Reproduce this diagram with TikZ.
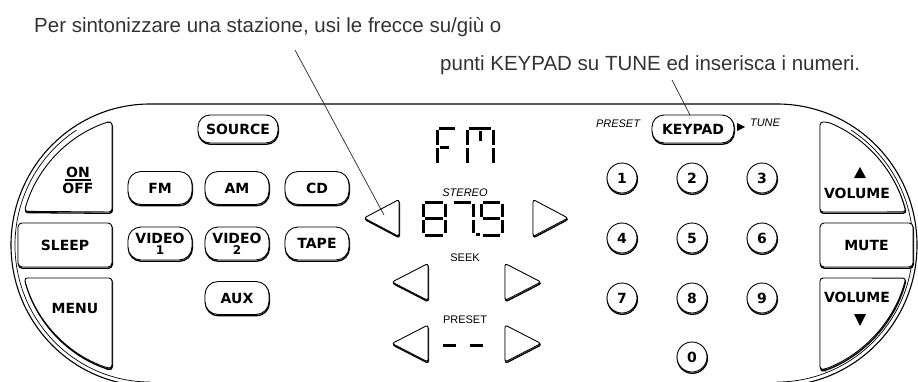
\documentclass[tikz,border=0pt]{standalone}
\usepackage{fontspec}
\setmainfont{Liberation Sans}
\newfontfamily\btnfont{DejaVu Sans}
\usetikzlibrary{calc}
\tikzset{
  outline/.style={draw=black, line width=1.1pt},
  btn/.style={draw=black, line width=0.9pt, fill=white,
    preaction={draw=black, line width=1.3pt, transform canvas={xshift=0.4pt, yshift=-1.3pt}}},
  pill/.style={btn, rounded corners=13pt, minimum width=64pt, minimum height=33pt, inner sep=0pt,
    align=center, font=\btnfont\bfseries\fontsize{14}{11}\selectfont},
  numkey/.style={btn, circle, minimum size=30pt, inner sep=0pt, font=\btnfont\bfseries\fontsize{14}{14}\selectfont},
  lbl/.style={inner sep=0pt, font=\btnfont\bfseries\fontsize{14}{14}\selectfont},
  small/.style={inner sep=0pt, font=\fontsize{11}{11}\selectfont},
  smallit/.style={inner sep=0pt, font=\itshape\fontsize{11}{11}\selectfont},
  toptext/.style={inner sep=0pt, text=black!80, font=\fontsize{20.5}{22}\selectfont},
  leader/.style={draw=black!85, line width=0.7pt},
  seg/.style={line width=3pt, line cap=butt},
}
\newcommand{\sevseg}[5]{%
  \foreach \q in {#5}{%
    \if a\q\draw[seg] ({#1+2},{#2})--({#1+#3-2},{#2});\fi
    \if b\q\draw[seg] ({#1+#3},{#2+2})--({#1+#3},{#2+#4/2-1.5});\fi
    \if c\q\draw[seg] ({#1+#3},{#2+#4/2+1.5})--({#1+#3},{#2+#4-2});\fi
    \if d\q\draw[seg] ({#1+2},{#2+#4})--({#1+#3-2},{#2+#4});\fi
    \if e\q\draw[seg] ({#1},{#2+#4/2+1.5})--({#1},{#2+#4-2});\fi
    \if f\q\draw[seg] ({#1},{#2+2})--({#1},{#2+#4/2-1.5});\fi
    \if g\q\draw[seg] ({#1+2},{#2+#4/2})--({#1+#3-2},{#2+#4/2});\fi
  }}
\newcommand{\ltri}[3]{\draw[btn, rounded corners=2.5pt] (#1,#2) -- (#3,{#2-18.5}) -- (#3,{#2+18.5}) -- cycle;}
\newcommand{\rtri}[3]{\draw[btn, rounded corners=2.5pt] (#1,#2) -- (#3,{#2+18.5}) -- (#3,{#2-18.5}) -- cycle;}
\begin{document}
\begin{tikzpicture}[x=1pt,y=-1pt]
\useasboundingbox (0,0) rectangle (918,381);
\coordinate (lc) at (150,245);
\coordinate (rc) at (777,245);
% outer body
\begin{scope}
  \clip (0,0) rectangle (918,381);
  \draw[outline] (150,104) -- (777,104)
     arc[start angle=-90, end angle=90, x radius=140, y radius=141]
     -- (150,386)
     arc[start angle=90, end angle=270, x radius=139, y radius=141] -- cycle;
  \draw[line width=0.7pt] ($(lc)+(237:135 and 137)$) arc[start angle=237, end angle=90, x radius=135, y radius=137];
  \draw[line width=0.7pt] ($(rc)+(-57:136 and 137)$) arc[start angle=-57, end angle=90, x radius=136, y radius=137];
\end{scope}
% top texts and leaders
\node[toptext, anchor=base west] (t1) at (34,32) {Per sintonizzare una stazione, usi le frecce su/giù o};
\node[toptext, anchor=base west] (t2) at (440,70) {punti KEYPAD su TUNE ed inserisca i numeri.};
\coordinate (l1a) at (295,50);
\coordinate (l1b) at (384,215);
\coordinate (l2a) at (672,80);
\coordinate (l2b) at (690,115);
% left side buttons
\draw[btn, rounded corners=3pt] (112,212) -- (112,122) -- ($(lc)+(251:130)$)
   arc[start angle=251, end angle=195, radius=130] -- cycle;
\node[lbl, anchor=base] (onT) at (78,177) {ON};
\draw[line width=1.6pt] (65,180) -- (91,180);
\node[lbl, anchor=base] (offT) at (78,193) {OFF};
\node[btn, lbl, rounded corners=4pt, minimum width=94pt, minimum height=44pt] (sleep) at (65,245) {SLEEP};
\draw[btn, rounded corners=3pt] (112,278) -- ($(lc)+(165.3:130)$)
   arc[start angle=165.3, end angle=108.9, radius=130] -- (112,368) -- cycle;
\node[lbl] (menuT) at (75,308) {MENU};
% source buttons
\node[pill, minimum width=80pt, minimum height=28pt, rounded corners=12pt] (source) at (238,129) {SOURCE};
\node[pill] (fm) at (160,188) {FM};
\node[pill] (am) at (237,188) {AM};
\node[pill] (cd) at (317,188) {CD};
\node[pill] (v1) at (160,243.5) {VIDEO\\{\fontsize{12}{11}\selectfont 1}};
\node[pill] (v2) at (237,243.5) {VIDEO\\{\fontsize{12}{11}\selectfont 2}};
\node[pill] (tape) at (317,243.5) {TAPE};
\node[pill] (aux) at (237,298) {AUX};
% display
\sevseg{437}{128}{20}{37}{a,e,f}
\draw[seg] (440,147) -- (449,147);
\sevseg{467}{128}{26}{37}{a,b,c,e,f}
\draw[seg] (480,131) -- (480,141);
\node[smallit] (stereo) at (465,193) {STEREO};
\sevseg{423}{202}{22}{33}{a,b,c,d,e,f,g}
\sevseg{452}{202}{21}{33}{a,b,c}
\fill (476,232.5) rectangle (479.5,236);
\sevseg{481}{202}{21}{33}{a,b,c,d,f,g}
\ltri{364}{218}{399}
\rtri{568}{218}{533}
\node[small] (seek) at (465,258) {SEEK};
\ltri{392}{282}{428}
\rtri{541}{282}{505}
\node[small] (presetC) at (465,320) {PRESET};
\ltri{392}{343.5}{428}
\rtri{541}{343.5}{505}
\draw[seg, line width=3pt] (443,345) -- (456,345);
\draw[seg, line width=3pt] (470,345) -- (483,345);
% keypad area
\node[smallit] (presetR) at (618,124) {PRESET};
\node[pill, minimum width=82pt, minimum height=28pt, rounded corners=12pt] (keypad) at (693,129) {KEYPAD};
\fill (737,123) -- (745,127) -- (737,131) -- cycle;
\node[smallit] (tune) at (765,123) {TUNE};
\node[numkey] (k1) at (622,178) {1};
\node[numkey] (k2) at (692,178) {2};
\node[numkey] (k3) at (762,178) {3};
\node[numkey] (k4) at (622,238) {4};
\node[numkey] (k5) at (692,238) {5};
\node[numkey] (k6) at (762,238) {6};
\node[numkey] (k7) at (622,298) {7};
\node[numkey] (k8) at (692,298) {8};
\node[numkey] (k9) at (762,298) {9};
\node[numkey] (k0) at (692,357) {0};
% right side buttons
\draw[btn, rounded corners=3pt] (820,212) -- (820,122) -- ($(rc)+(292.4:133)$)
   arc[start angle=292.4, end angle=345.6, radius=133] -- cycle;
\fill (854,178) -- (866,178) -- (860,167) -- cycle;
\node[lbl] (volupT) at (857,193) {VOLUME};
\node[btn, lbl, rounded corners=4pt, minimum width=93pt, minimum height=44pt] (mute) at (866.5,245) {MUTE};
\draw[btn, rounded corners=3pt] (820,278) -- ($(rc)+(14.4:133)$)
   arc[start angle=14.4, end angle=69.3, radius=133] -- (820,369.4) -- cycle;
\node[lbl] (voldnT) at (857,297) {VOLUME};
\fill (854,314) -- (866,314) -- (860,326) -- cycle;
% leader lines
\draw[leader] (l1a) -- (l1b);
\draw[leader] (l2a) -- (l2b);
\end{tikzpicture}
\end{document}
